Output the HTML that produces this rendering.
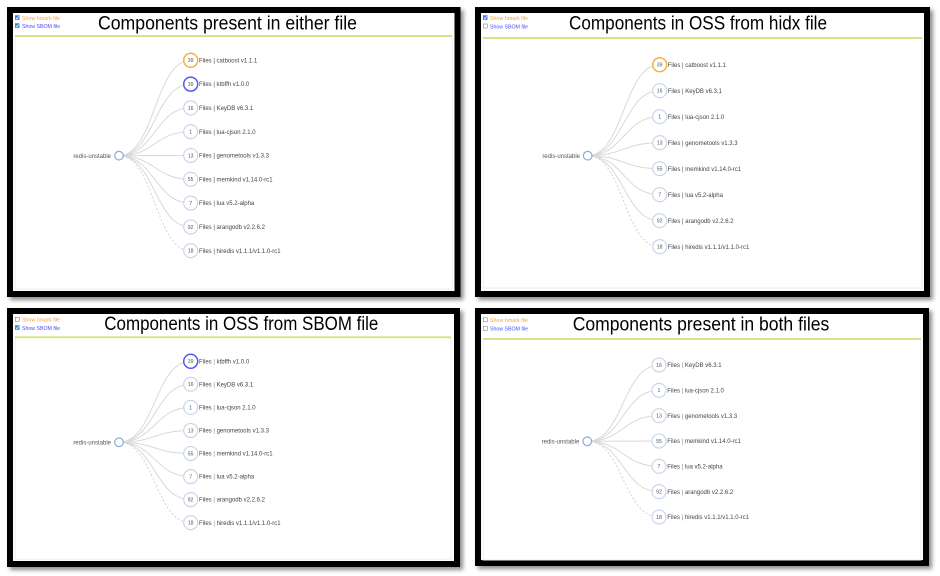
<!DOCTYPE html>
<html><head><meta charset="utf-8"><style>
html,body{margin:0;padding:0;background:#fff;}
svg{display:block;}
.lk{fill:none;stroke:#d9d9d9;stroke-width:1;}
.dl{fill:none;stroke:#cfcfcf;stroke-width:0.9;stroke-dasharray:2,2;}
.nd{fill:#fff;stroke:#c3d4ea;stroke-width:1.1;}
.or{fill:#fff;stroke:#f7b03c;stroke-width:1.5;}
.bl{fill:#fff;stroke:#5656f2;stroke-width:1.5;}
.rt{fill:#fff;stroke:#86acd8;stroke-width:1.2;}
.num{font-family:"Liberation Sans",sans-serif;font-size:5.2px;fill:#555;text-anchor:middle;}
.lb{font-family:"Liberation Sans",sans-serif;font-size:6px;fill:#444;}
.rl{font-family:"Liberation Sans",sans-serif;font-size:6px;fill:#555;text-anchor:end;}
.tt{font-family:"Liberation Sans",sans-serif;font-size:19px;fill:#000;}
.ch{font-family:"Liberation Sans",sans-serif;font-size:5.3px;}
.pp{fill:#b068a8;}
</style></head><body>
<svg width="940" height="576" viewBox="0 0 940 576" xmlns="http://www.w3.org/2000/svg">
<defs>
<filter id="sh" x="-5%" y="-5%" width="112%" height="115%">
<feGaussianBlur in="SourceAlpha" stdDeviation="2"/>
<feOffset dx="3" dy="3" result="b"/>
<feComponentTransfer><feFuncA type="linear" slope="0.45"/></feComponentTransfer>
<feMerge><feMergeNode/><feMergeNode in="SourceGraphic"/></feMerge>
</filter>
</defs>
<rect width="940" height="576" fill="#fff"/>

<!-- frames -->
<g filter="url(#sh)">
<rect x="10" y="10" width="447.5" height="284" fill="#fff" stroke="#000" stroke-width="6"/>
<rect x="478" y="10" width="449" height="284" fill="#fff" stroke="#000" stroke-width="6"/>
<rect x="10" y="311" width="447" height="253" fill="#fff" stroke="#000" stroke-width="6"/>
<rect x="478" y="311" width="448" height="252" fill="#fff" stroke="#000" stroke-width="6"/>
</g>

<!-- cards -->
<rect x="15" y="36" width="437" height="253" fill="#fff" stroke="#eee" stroke-width="1"/>
<line x1="15" y1="36" x2="452" y2="36" stroke="#d8e08a" stroke-width="2"/>
<rect x="483" y="38" width="439" height="250" fill="#fff" stroke="#eee" stroke-width="1"/>
<line x1="483" y1="38" x2="922" y2="38" stroke="#d8e08a" stroke-width="2"/>
<rect x="15" y="337.3" width="436" height="222" fill="#fff" stroke="#eee" stroke-width="1"/>
<line x1="15" y1="337.3" x2="451" y2="337.3" stroke="#d8e08a" stroke-width="2"/>
<rect x="483" y="339" width="438" height="221" fill="#fff" stroke="#eee" stroke-width="1"/>
<line x1="483" y1="339" x2="921" y2="339" stroke="#d8e08a" stroke-width="2"/>

<!-- checkboxes P1 -->
<rect x="15" y="15.3" width="4.5" height="4.5" fill="#2f7de1"/><polyline points="15.9,17.6 17,18.8 18.8,16.3" fill="none" stroke="#fff" stroke-width="0.8"/>
<text class="ch" x="22" y="19.8" fill="#f7a53a" textLength="38" lengthAdjust="spacingAndGlyphs">Show hmark file</text>
<rect x="15" y="23.3" width="4.5" height="4.5" fill="#2f7de1"/><polyline points="15.9,25.6 17,26.8 18.8,24.3" fill="none" stroke="#fff" stroke-width="0.8"/>
<text class="ch" x="22" y="27.8" fill="#4b4bf5" textLength="38" lengthAdjust="spacingAndGlyphs">Show SBOM file</text>
<!-- checkboxes P2 -->
<rect x="483" y="15.3" width="4.5" height="4.5" fill="#2f7de1"/><polyline points="483.9,17.6 485,18.8 486.8,16.3" fill="none" stroke="#fff" stroke-width="0.8"/>
<text class="ch" x="490" y="19.8" fill="#f7a53a" textLength="38" lengthAdjust="spacingAndGlyphs">Show hmark file</text>
<rect x="483.3" y="24" width="4" height="4" fill="#fff" stroke="#888" stroke-width="0.6"/>
<text class="ch" x="490" y="28.3" fill="#4b4bf5" textLength="38" lengthAdjust="spacingAndGlyphs">Show SBOM file</text>
<!-- checkboxes P3 -->
<rect x="15.3" y="317.3" width="4" height="4" fill="#fff" stroke="#888" stroke-width="0.6"/>
<text class="ch" x="22" y="321.6" fill="#f7a53a" textLength="38" lengthAdjust="spacingAndGlyphs">Show hmark file</text>
<rect x="15" y="325.3" width="4.5" height="4.5" fill="#2f7de1"/><polyline points="15.9,327.6 17,328.8 18.8,326.3" fill="none" stroke="#fff" stroke-width="0.8"/>
<text class="ch" x="22" y="329.8" fill="#4b4bf5" textLength="38" lengthAdjust="spacingAndGlyphs">Show SBOM file</text>
<!-- checkboxes P4 -->
<rect x="483.3" y="317.8" width="4" height="4" fill="#fff" stroke="#888" stroke-width="0.6"/>
<text class="ch" x="490" y="322.1" fill="#f7a53a" textLength="38" lengthAdjust="spacingAndGlyphs">Show hmark file</text>
<rect x="483.3" y="326.3" width="4" height="4" fill="#fff" stroke="#888" stroke-width="0.6"/>
<text class="ch" x="490" y="330.6" fill="#4b4bf5" textLength="38" lengthAdjust="spacingAndGlyphs">Show SBOM file</text>

<!-- titles -->
<text class="tt" x="98" y="29.3" textLength="259" lengthAdjust="spacingAndGlyphs">Components present in either file</text>
<text class="tt" x="569" y="29.3" textLength="258" lengthAdjust="spacingAndGlyphs">Components in OSS from hidx file</text>
<text class="tt" x="104.3" y="330.2" textLength="274" lengthAdjust="spacingAndGlyphs">Components in OSS from SBOM file</text>
<text class="tt" x="572.7" y="330.5" textLength="256.6" lengthAdjust="spacingAndGlyphs">Components present in both files</text>

<!-- ===== P1 tree ===== -->
<path class="lk" d="M119 155.7C154.85 155.7 154.85 60.3 190.7 60.3"/>
<path class="lk" d="M119 155.7C154.85 155.7 154.85 84.1 190.7 84.1"/>
<path class="lk" d="M119 155.7C154.85 155.7 154.85 107.9 190.7 107.9"/>
<path class="lk" d="M119 155.7C154.85 155.7 154.85 131.7 190.7 131.7"/>
<path class="lk" d="M119 155.7C154.85 155.7 154.85 155.5 190.7 155.5"/>
<path class="lk" d="M119 155.7C154.85 155.7 154.85 179.3 190.7 179.3"/>
<path class="lk" d="M119 155.7C154.85 155.7 154.85 203.1 190.7 203.1"/>
<path class="lk" d="M119 155.7C154.85 155.7 154.85 226.9 190.7 226.9"/>
<path class="dl" d="M119 155.7C154.85 155.7 154.85 250.7 190.7 250.7"/>
<circle class="rt" cx="119" cy="155.7" r="4.3"/>
<text class="rl" x="111" y="158">redis-unstable</text>
<circle class="or" cx="190.7" cy="60.3" r="7"/><text class="num" x="190.7" y="62.2">39</text><text class="lb" x="199" y="62.4">Files | catboost v1.1.1</text>
<circle class="bl" cx="190.7" cy="84.1" r="7"/><text class="num" x="190.7" y="86">39</text><text class="lb" x="199" y="86.2">Files | ktbffh v1.0.0</text>
<circle class="nd" cx="190.7" cy="107.9" r="7"/><text class="num" x="190.7" y="109.8">16</text><text class="lb" x="199" y="110">Files | KeyDB v6.3.1</text>
<circle class="nd" cx="190.7" cy="131.7" r="7"/><text class="num" x="190.7" y="133.6">1</text><text class="lb" x="199" y="133.8">Files | lua-cjson 2.1.0</text>
<circle class="nd" cx="190.7" cy="155.5" r="7"/><text class="num" x="190.7" y="157.4">13</text><text class="lb" x="199" y="157.6">Files | genometools v1.3.3</text>
<circle class="nd" cx="190.7" cy="179.3" r="7"/><text class="num" x="190.7" y="181.2">55</text><text class="lb" x="199" y="181.4">Files | memkind v1.14.0-rc1</text>
<circle class="nd" cx="190.7" cy="203.1" r="7"/><text class="num" x="190.7" y="205">7</text><text class="lb" x="199" y="205.2">Files | lua v5.2-alpha</text>
<circle class="nd" cx="190.7" cy="226.9" r="7"/><text class="num" x="190.7" y="228.8">92</text><text class="lb" x="199" y="229">Files | arangodb v2.2.6.2</text>
<circle class="nd" cx="190.7" cy="250.7" r="7"/><text class="num" x="190.7" y="252.6">18</text><text class="lb" x="199" y="252.8">Files | hiredis v1.1.1/v1.1.0-rc1</text>

<!-- ===== P2 tree ===== -->
<path class="lk" d="M587.7 155.7C623.7 155.7 623.7 64.7 659.7 64.7"/>
<path class="lk" d="M587.7 155.7C623.7 155.7 623.7 90.7 659.7 90.7"/>
<path class="lk" d="M587.7 155.7C623.7 155.7 623.7 116.7 659.7 116.7"/>
<path class="lk" d="M587.7 155.7C623.7 155.7 623.7 142.7 659.7 142.7"/>
<path class="lk" d="M587.7 155.7C623.7 155.7 623.7 168.7 659.7 168.7"/>
<path class="lk" d="M587.7 155.7C623.7 155.7 623.7 194.7 659.7 194.7"/>
<path class="lk" d="M587.7 155.7C623.7 155.7 623.7 220.7 659.7 220.7"/>
<path class="dl" d="M587.7 155.7C623.7 155.7 623.7 246.7 659.7 246.7"/>
<circle class="rt" cx="587.7" cy="155.7" r="4.3"/>
<text class="rl" x="580" y="158">redis-unstable</text>
<circle class="or" cx="659.7" cy="64.7" r="7"/><text class="num" x="659.7" y="66.6">39</text><text class="lb" x="667.7" y="66.8">Files | catboost v1.1.1</text>
<circle class="nd" cx="659.7" cy="90.7" r="7"/><text class="num" x="659.7" y="92.6">16</text><text class="lb" x="667.7" y="92.8">Files | KeyDB v6.3.1</text>
<circle class="nd" cx="659.7" cy="116.7" r="7"/><text class="num" x="659.7" y="118.6">1</text><text class="lb" x="667.7" y="118.8">Files | lua-cjson 2.1.0</text>
<circle class="nd" cx="659.7" cy="142.7" r="7"/><text class="num" x="659.7" y="144.6">13</text><text class="lb" x="667.7" y="144.8">Files | genometools v1.3.3</text>
<circle class="nd" cx="659.7" cy="168.7" r="7"/><text class="num" x="659.7" y="170.6">55</text><text class="lb" x="667.7" y="170.8">Files | memkind v1.14.0-rc1</text>
<circle class="nd" cx="659.7" cy="194.7" r="7"/><text class="num" x="659.7" y="196.6">7</text><text class="lb" x="667.7" y="196.8">Files | lua v5.2-alpha</text>
<circle class="nd" cx="659.7" cy="220.7" r="7"/><text class="num" x="659.7" y="222.6">92</text><text class="lb" x="667.7" y="222.8">Files | arangodb v2.2.6.2</text>
<circle class="nd" cx="659.7" cy="246.7" r="7"/><text class="num" x="659.7" y="248.6">18</text><text class="lb" x="667.7" y="248.8">Files | hiredis v1.1.1/v1.1.0-rc1</text>

<!-- ===== P3 tree ===== -->
<path class="lk" d="M119 442.3C154.85 442.3 154.85 361.3 190.7 361.3"/>
<path class="lk" d="M119 442.3C154.85 442.3 154.85 384.3 190.7 384.3"/>
<path class="lk" d="M119 442.3C154.85 442.3 154.85 407.4 190.7 407.4"/>
<path class="lk" d="M119 442.3C154.85 442.3 154.85 430.5 190.7 430.5"/>
<path class="lk" d="M119 442.3C154.85 442.3 154.85 453.5 190.7 453.5"/>
<path class="lk" d="M119 442.3C154.85 442.3 154.85 476.6 190.7 476.6"/>
<path class="lk" d="M119 442.3C154.85 442.3 154.85 499.6 190.7 499.6"/>
<path class="dl" d="M119 442.3C154.85 442.3 154.85 522.7 190.7 522.7"/>
<circle class="rt" cx="119" cy="442.3" r="4.3"/>
<text class="rl" x="111" y="444.6">redis-unstable</text>
<circle class="bl" cx="190.7" cy="361.3" r="7"/><text class="num" x="190.7" y="363.2">39</text><text class="lb" x="199" y="363.4">Files <tspan class="pp">|</tspan> ktbffh v1.0.0</text>
<circle class="nd" cx="190.7" cy="384.3" r="7"/><text class="num" x="190.7" y="386.2">16</text><text class="lb" x="199" y="386.4">Files <tspan class="pp">|</tspan> KeyDB v6.3.1</text>
<circle class="nd" cx="190.7" cy="407.4" r="7"/><text class="num" x="190.7" y="409.3">1</text><text class="lb" x="199" y="409.5">Files <tspan class="pp">|</tspan> lua-cjson 2.1.0</text>
<circle class="nd" cx="190.7" cy="430.5" r="7"/><text class="num" x="190.7" y="432.4">13</text><text class="lb" x="199" y="432.6">Files <tspan class="pp">|</tspan> genometools v1.3.3</text>
<circle class="nd" cx="190.7" cy="453.5" r="7"/><text class="num" x="190.7" y="455.4">55</text><text class="lb" x="199" y="455.6">Files <tspan class="pp">|</tspan> memkind v1.14.0-rc1</text>
<circle class="nd" cx="190.7" cy="476.6" r="7"/><text class="num" x="190.7" y="478.5">7</text><text class="lb" x="199" y="478.7">Files <tspan class="pp">|</tspan> lua v5.2-alpha</text>
<circle class="nd" cx="190.7" cy="499.6" r="7"/><text class="num" x="190.7" y="501.5">92</text><text class="lb" x="199" y="501.7">Files <tspan class="pp">|</tspan> arangodb v2.2.6.2</text>
<circle class="nd" cx="190.7" cy="522.7" r="7"/><text class="num" x="190.7" y="524.6">18</text><text class="lb" x="199" y="524.8">Files <tspan class="pp">|</tspan> hiredis v1.1.1/v1.1.0-rc1</text>

<!-- ===== P4 tree ===== -->
<path class="lk" d="M587.3 441.3C623.15 441.3 623.15 365 659 365"/>
<path class="lk" d="M587.3 441.3C623.15 441.3 623.15 390.3 659 390.3"/>
<path class="lk" d="M587.3 441.3C623.15 441.3 623.15 415.7 659 415.7"/>
<path class="lk" d="M587.3 441.3C623.15 441.3 623.15 441 659 441"/>
<path class="lk" d="M587.3 441.3C623.15 441.3 623.15 466.3 659 466.3"/>
<path class="lk" d="M587.3 441.3C623.15 441.3 623.15 491.7 659 491.7"/>
<path class="dl" d="M587.3 441.3C623.15 441.3 623.15 517 659 517"/>
<circle class="rt" cx="587.3" cy="441.3" r="4.3"/>
<text class="rl" x="579.3" y="443.6">redis-unstable</text>
<circle class="nd" cx="659" cy="365" r="7"/><text class="num" x="659" y="366.9">16</text><text class="lb" x="667.3" y="367.1">Files <tspan class="pp">|</tspan> KeyDB v6.3.1</text>
<circle class="nd" cx="659" cy="390.3" r="7"/><text class="num" x="659" y="392.2">1</text><text class="lb" x="667.3" y="392.4">Files <tspan class="pp">|</tspan> lua-cjson 2.1.0</text>
<circle class="nd" cx="659" cy="415.7" r="7"/><text class="num" x="659" y="417.6">13</text><text class="lb" x="667.3" y="417.8">Files <tspan class="pp">|</tspan> genometools v1.3.3</text>
<circle class="nd" cx="659" cy="441" r="7"/><text class="num" x="659" y="442.9">55</text><text class="lb" x="667.3" y="443.1">Files <tspan class="pp">|</tspan> memkind v1.14.0-rc1</text>
<circle class="nd" cx="659" cy="466.3" r="7"/><text class="num" x="659" y="468.2">7</text><text class="lb" x="667.3" y="468.4">Files <tspan class="pp">|</tspan> lua v5.2-alpha</text>
<circle class="nd" cx="659" cy="491.7" r="7"/><text class="num" x="659" y="493.6">92</text><text class="lb" x="667.3" y="493.8">Files <tspan class="pp">|</tspan> arangodb v2.2.6.2</text>
<circle class="nd" cx="659" cy="517" r="7"/><text class="num" x="659" y="518.9">18</text><text class="lb" x="667.3" y="519.1">Files <tspan class="pp">|</tspan> hiredis v1.1.1/v1.1.0-rc1</text>
</svg>
</body></html>
